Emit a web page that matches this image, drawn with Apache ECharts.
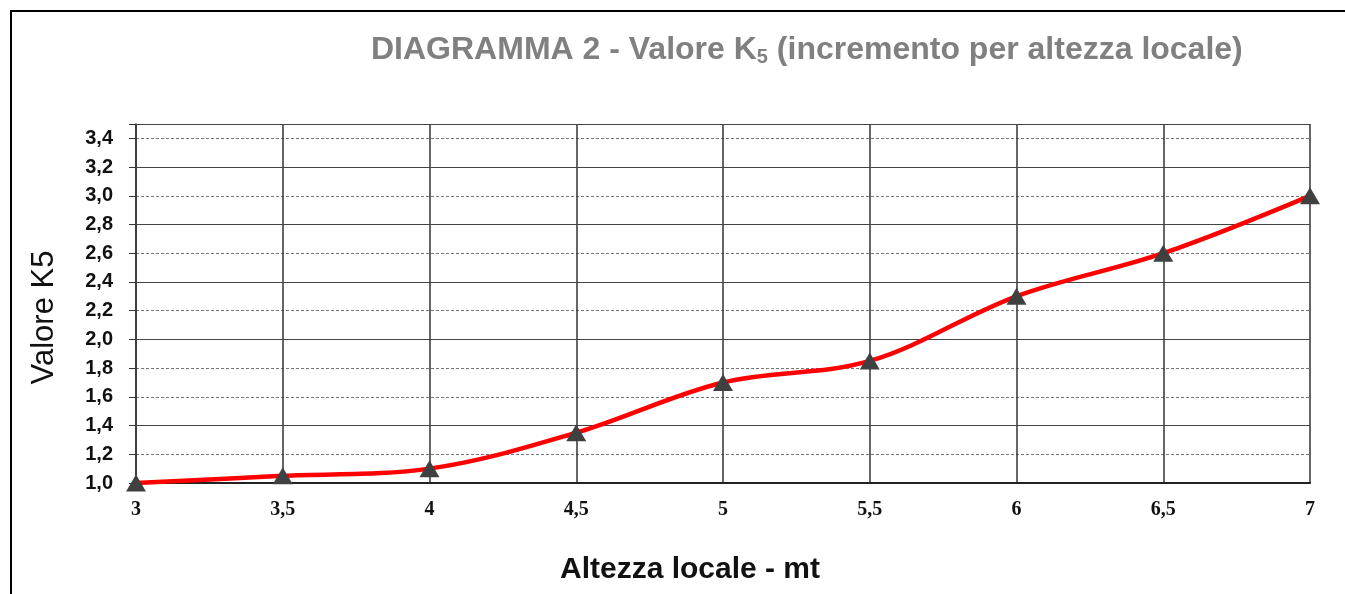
<!DOCTYPE html>
<html>
<head>
<meta charset="utf-8">
<script src="https://cdn.jsdelivr.net/npm/echarts@6/dist/echarts.min.js"></script>
<style>
  html, body { margin: 0; padding: 0; background: #fff; }
  #canvas { width: 1345px; height: 594px; }
</style>
</head>
<body>
<div id="canvas"></div>
<script>
var altezze = [3, 3.5, 4, 4.5, 5, 5.5, 6, 6.5, 7];
var valoriK5 = [1.0, 1.05, 1.1, 1.35, 1.7, 1.85, 2.3, 2.6, 3.0];
// righe orizzontali continue (le altre sono tratteggiate)
var righeContinue = [1.4, 2.0, 2.4, 2.8, 3.2, 3.5];

var myChart = echarts.init(document.getElementById("canvas"));

var punti = altezze.map(function (x, i) {
    return [x, valoriK5[i]];
});

var option = {
    animation: false,
    backgroundColor: "#fff",
    title: {
        left: 366,
        top: 28,
        text: "{a|DIAGRAMMA 2 - Valore K}{s|5}{a| (incremento per altezza locale)}",
        textStyle: {
            rich: {
                a: {
                    fontFamily: "Liberation Sans",
                    fontSize: 32,
                    fontWeight: "bold",
                    color: "#808080"
                },
                s: {
                    fontFamily: "Liberation Sans",
                    fontSize: 20,
                    fontWeight: "bold",
                    color: "#808080",
                    verticalAlign: "bottom",
                    padding: [14, 0, 0, 0]
                }
            }
        }
    },
    graphic: [{
        type: "rect",
        shape: { x: 11, y: 11, width: 1345, height: 600 },
        style: { fill: "none", stroke: "#000", lineWidth: 2 },
        silent: true
    }],
    grid: {
        left: 136,
        right: 35,
        top: 124,
        bottom: 111
    },
    xAxis: {
        type: "value",
        min: 3,
        max: 7,
        interval: 0.5,
        name: "Altezza locale - mt",
        nameLocation: "middle",
        nameGap: 72,
        nameTextStyle: {
            fontFamily: "Liberation Sans",
            fontSize: 30,
            fontWeight: "bold",
            color: "#111",
            padding: [0, 66, 0, 0]
        },
        axisLine: { lineStyle: { color: "#222", width: 2 } },
        axisTick: { show: false },
        axisLabel: {
            margin: 17,
            fontFamily: "Liberation Serif",
            fontWeight: "bold",
            fontSize: 20,
            color: "#111",
            formatter: function (v) {
                return String(v).replace(".", ",");
            }
        },
        splitLine: {
            show: true,
            lineStyle: { color: "#333", width: 1.5, type: "solid" }
        }
    },
    yAxis: {
        type: "value",
        min: 1.0,
        max: 3.5,
        interval: 0.2,
        name: "Valore K5",
        nameLocation: "middle",
        nameGap: 76,
        nameTextStyle: {
            fontFamily: "Liberation Sans",
            fontSize: 31,
            color: "#111",
            padding: [0, 28, 0, 0]
        },
        axisLine: { show: true, lineStyle: { color: "#333", width: 1.5 } },
        axisTick: { show: true, length: 7, lineStyle: { color: "#333" } },
        axisLabel: {
            margin: 23,
            fontFamily: "Liberation Sans",
            fontWeight: "bold",
            fontSize: 20,
            color: "#111",
            formatter: function (v) {
                if (v > 3.45) return "";
                return v.toFixed(1).replace(".", ",");
            }
        },
        splitLine: {
            show: true,
            lineStyle: { color: "#777", width: 1, type: [3, 2] }
        }
    },
    series: [{
        type: "line",
        data: punti,
        smooth: 0.35,
        symbol: "triangle",
        symbolSize: [20, 17],
        itemStyle: { color: "#404040" },
        lineStyle: { color: "#ff0000", width: 4.5 },
        z: 5,
        markLine: {
            silent: true,
            symbol: "none",
            label: { show: false },
            lineStyle: { color: "#444", width: 1.2, type: "solid" },
            data: righeContinue.map(function (v) {
                return { yAxis: v };
            }),
            z: 1
        }
    }]
};

myChart.setOption(option);
</script>
</body>
</html>
